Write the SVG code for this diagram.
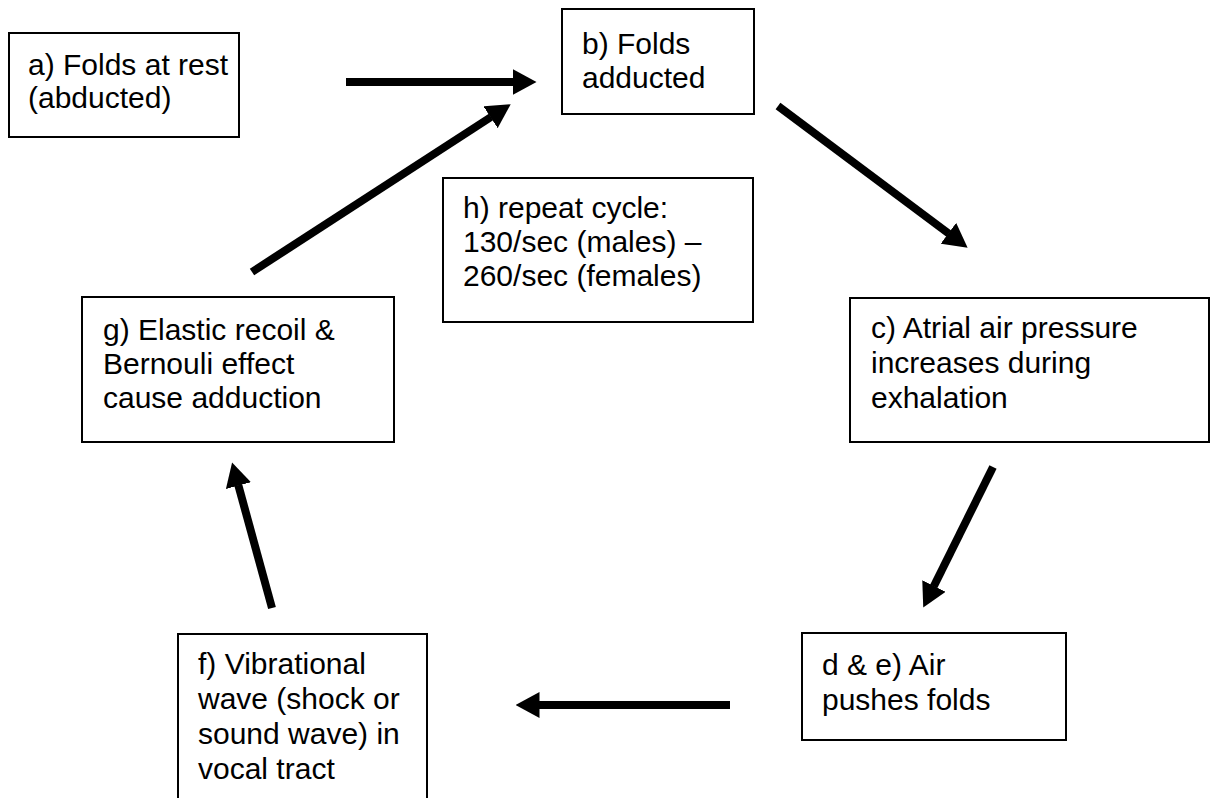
<svg xmlns="http://www.w3.org/2000/svg" width="1212" height="798" viewBox="0 0 1212 798">
<style>
.box{fill:#fff;stroke:#000;stroke-width:2}
.t{font-family:"Liberation Sans",Arial,sans-serif;font-size:30px;fill:#000}
.c{stroke:#000;stroke-width:8;fill:none;marker-end:url(#ah)}
</style>
<defs>
<marker id="ah" viewBox="0 0 24 26" markerWidth="24" markerHeight="26" markerUnits="userSpaceOnUse" refX="0.5" refY="13" orient="auto">
<path d="M0,0 L24,13 L0,26 z" fill="#000"/>
</marker>
</defs>
<rect width="1212" height="798" fill="#fff"/>
<g id="node-a">
<rect class="box" x="9" y="33" width="230" height="104"/>
<text class="t" x="28"><tspan x="28" y="75">a) Folds at rest</tspan><tspan x="28" y="108">(abducted)</tspan></text>
</g>
<g id="node-b">
<rect class="box" x="562" y="9" width="192" height="105"/>
<text class="t"><tspan x="582" y="54">b) Folds</tspan><tspan x="582" y="88">adducted</tspan></text>
</g>
<g id="node-h">
<rect class="box" x="443" y="178" width="310" height="144"/>
<text class="t"><tspan x="463" y="218">h) repeat cycle:</tspan><tspan x="463" y="252">130/sec (males) –</tspan><tspan x="463" y="286">260/sec (females)</tspan></text>
</g>
<g id="node-c">
<rect class="box" x="850" y="298" width="359" height="144"/>
<text class="t"><tspan x="871" y="338">c) Atrial air pressure</tspan><tspan x="871" y="373">increases during</tspan><tspan x="871" y="408">exhalation</tspan></text>
</g>
<g id="node-g">
<rect class="box" x="82" y="297" width="312" height="145"/>
<text class="t"><tspan x="103" y="340">g) Elastic recoil &amp;</tspan><tspan x="103" y="374">Bernouli effect</tspan><tspan x="103" y="408">cause adduction</tspan></text>
</g>
<g id="node-d">
<rect class="box" x="802" y="633" width="264" height="107"/>
<text class="t"><tspan x="822" y="675">d &amp; e) Air</tspan><tspan x="822" y="710">pushes folds</tspan></text>
</g>
<g id="node-f">
<rect class="box" x="178" y="634" width="249" height="180"/>
<text class="t"><tspan x="198" y="674">f) Vibrational</tspan><tspan x="198" y="709">wave (shock or</tspan><tspan x="198" y="744">sound wave) in</tspan><tspan x="198" y="779">vocal tract</tspan></text>
</g>
<g id="connectors">
<line class="c" x1="346" y1="82" x2="513" y2="82"/>
<line class="c" x1="778" y1="106" x2="948.8" y2="233.6"/>
<line class="c" x1="993" y1="467" x2="933.7" y2="586.5"/>
<line class="c" x1="730" y1="705" x2="539" y2="705"/>
<line class="c" x1="272" y1="608" x2="238.3" y2="485.1"/>
<line class="c" x1="252" y1="272" x2="491" y2="117"/>
</g>
</svg>
